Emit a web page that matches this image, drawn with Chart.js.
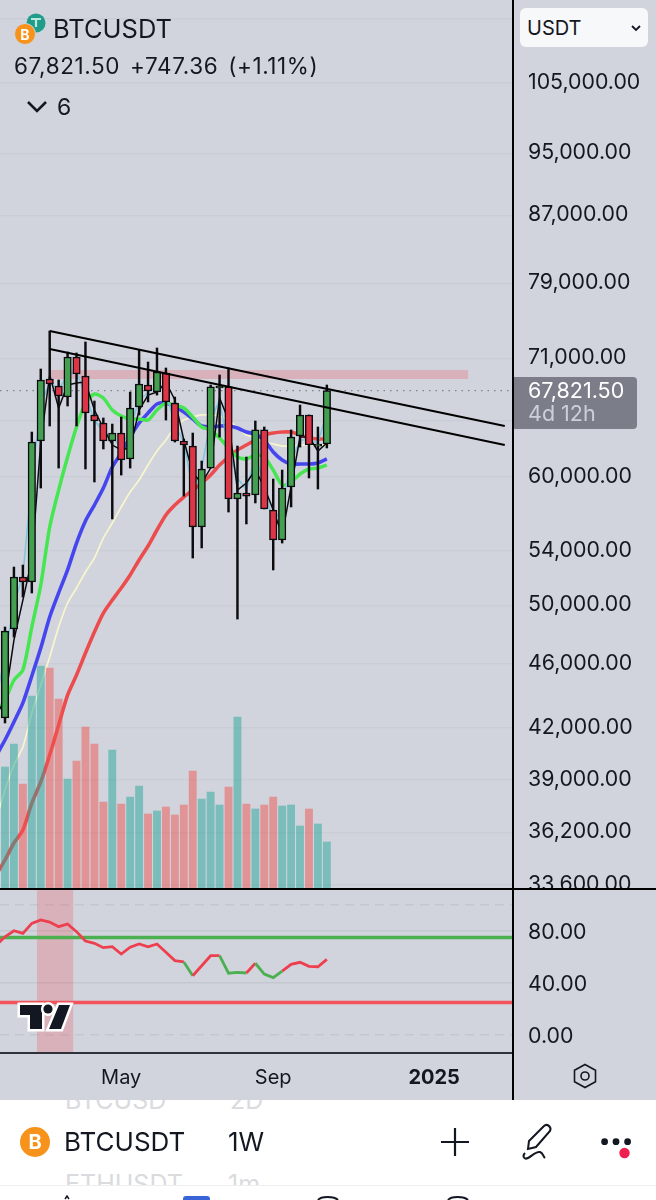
<!DOCTYPE html>
<html>
<head>
<meta charset="utf-8">
<script src="https://cdn.jsdelivr.net/npm/chart.js@4"></script>
<style>
	html, body { margin: 0; padding: 0; background: #fff; }
	#page { position: relative; width: 656px; height: 1200px; overflow: hidden; font-family: Inter, sans-serif; color: #131722; }
	#pane { position: absolute; left: 0; top: 0; width: 656px; height: 1100px; background: #d1d4dc; }
	canvas { position: absolute; left: 0; display: block; }
	.txt { position: absolute; white-space: nowrap; line-height: 1; }
	.rule { position: absolute; background: #000; }
	svg { position: absolute; overflow: visible; }
</style>
</head>
<body>
<div id="page">
	<div id="pane"></div>
	<canvas id="chart-price" width="656" height="888" style="top:0"></canvas>
	<canvas id="chart-rsi" width="656" height="212" style="top:888px"></canvas>

	<div class="rule" style="left:0;top:888px;width:656px;height:2px"></div>
	<div class="rule" style="left:0;top:1052px;width:513px;height:2px;background:#2f323b"></div>
	<div class="rule" style="left:512px;top:0;width:2px;height:1100px"></div>

	<!-- header -->
	<svg style="left:0;top:0" width="80" height="50">
		<circle cx="36" cy="23" r="9.5" fill="#1f9d8a"/>
		<path d="M31 19h10M36 19v8" stroke="#bfe5df" stroke-width="2.2" fill="none"/>
		<circle cx="25" cy="34" r="10.5" fill="#f7931a" stroke="#d1d4dc" stroke-width="1"/>
		<text x="25" y="39.5" font-size="14" font-weight="700" fill="#fff" text-anchor="middle" font-family="Inter">B</text>
	</svg>
	<div class="txt" style="left:53px;top:16px;font-size:25.5px">BTCUSDT</div>
	<div class="txt" style="left:14px;top:55px;font-size:22.5px;letter-spacing:.6px;word-spacing:3px">67,821.50 +747.36 (+1.11%)</div>
	<svg style="left:26px;top:100px" width="22" height="14"><path d="M2 2l9 9 9-9" fill="none" stroke="#131722" stroke-width="2.6"/></svg>
	<div class="txt" style="left:57px;top:96px;font-size:23px">6</div>

	<!-- currency box -->
	<div style="position:absolute;left:520px;top:8px;width:128px;height:39px;background:#f7f8fa;border-radius:6px"></div>
	<div class="txt" style="left:527px;top:18px;font-size:20px">USDT</div>
	<svg style="left:631px;top:25px" width="10" height="7"><path d="M1 1l4 4 4-4" fill="none" stroke="#131722" stroke-width="1.8"/></svg>

	<!-- last price label -->
	<div style="position:absolute;left:514px;top:377px;width:123px;height:52px;background:#7b7e89;border-radius:0 4px 4px 0"></div>
	<div class="txt" style="left:528px;top:380px;font-size:21.5px;color:#fff">67,821.50</div>
	<div class="txt" style="left:528px;top:403px;font-size:21.5px;color:#cdd0d8">4d 12h</div>

	<!-- watermark logo -->
	<svg style="left:0;top:995px" width="80" height="45">
		<g fill="#131722" stroke="#fff" stroke-width="5" paint-order="stroke" stroke-linejoin="miter">
			<path d="M20 10h22v24H30V20H20z"/>
			<circle cx="48" cy="14" r="4.6"/>
			<path d="M59 10h11l-9 24H49z"/>
		</g>
	</svg>

	<!-- settings icon on the time axis -->
	<svg style="left:572px;top:1063px" width="26" height="26">
		<path d="M13 1.5l10.5 5.8v11.4L13 24.5 2.5 18.7V7.3z" fill="none" stroke="#131722" stroke-width="1.6"/>
		<circle cx="13" cy="13" r="4" fill="none" stroke="#131722" stroke-width="1.6"/>
	</svg>

	<!-- bottom bar -->
	<div style="position:absolute;left:0;top:1100px;width:656px;height:85px;overflow:hidden">
		<div class="txt" style="left:65px;top:-12px;font-size:25px;color:#d9dbde">BTCUSD</div>
		<div class="txt" style="left:230px;top:-12px;font-size:25px;color:#d9dbde">2D</div>
		<div class="txt" style="left:65px;top:72px;font-size:25px;color:#d9dbde">ETHUSDT</div>
		<div class="txt" style="left:228px;top:72px;font-size:25px;color:#d9dbde">1m</div>
	</div>
	<div style="position:absolute;left:0;top:1185px;width:656px;height:1px;background:#eeeef0"></div>
	<svg style="left:20px;top:1127px" width="30" height="30">
		<circle cx="15" cy="15" r="15" fill="#f7931a"/>
		<text x="15" y="22" font-size="20" font-weight="700" fill="#fff" text-anchor="middle" font-family="Inter">B</text>
	</svg>
	<div class="txt" style="left:64px;top:1129px;font-size:26px">BTCUSDT</div>
	<div class="txt" style="left:228px;top:1129px;font-size:26px">1W</div>
	<svg style="left:440px;top:1127px" width="30" height="30"><path d="M15 1v28M1 15h28" stroke="#131722" stroke-width="2.2"/></svg>
	<svg style="left:518px;top:1122px" width="38" height="40">
		<path d="M26 4c3-3 8 1 6 5L18 25l-8 2 1-8z" fill="none" stroke="#131722" stroke-width="2"/>
		<path d="M7 31c-3 3-1 7 3 5 4-2 8-7 12-6 3 1 3 4 5 6" fill="none" stroke="#131722" stroke-width="2"/>
	</svg>
	<svg style="left:598px;top:1134px" width="36" height="28">
		<circle cx="6.6" cy="7.7" r="3.4" fill="#131722"/>
		<circle cx="18" cy="7.7" r="3.4" fill="#131722"/>
		<circle cx="29.6" cy="7.7" r="3.4" fill="#131722"/>
		<circle cx="26.5" cy="19" r="5.2" fill="#ef1f4f"/>
	</svg>
	<svg style="left:0;top:1190px" width="656" height="10">
		<path d="M65 9l2-3 2 3" stroke="#131722" stroke-width="1.5" fill="none"/>
		<rect x="183" y="6" width="27" height="10" rx="3" fill="#3a63d8"/>
		<path d="M318 10c3-4 16-4 20 0" stroke="#131722" stroke-width="2" fill="none"/>
		<path d="M448 10c3-4 16-4 20 0" stroke="#131722" stroke-width="2" fill="none"/>
	</svg>
</div>

<script>
// weekly candles from 29 Jan 2024, index -1 is just off the left edge
var weeks = [-1,0,1,2,3,4,5,6,7,8,9,10,11,12,13,14,15,16,17,18,19,20,21,22,23,24,25,26,27,28,29,30,31,32,33,34,35,36];
var opens = [42960,42600,48340,52050,51680,63140,68950,68270,67210,71140,69250,65520,64780,63140,63860,61550,66270,68370,67690,69540,66640,63140,62690,55880,60760,68080,68180,58150,58640,58480,64140,57240,54860,59150,63590,65520,62690,62870];
var highs = [43700,48480,52790,52940,63950,69940,73820,68860,71650,71550,72680,66830,65240,64680,65330,67690,71850,70640,72060,70040,67210,63320,63860,61370,68370,69350,70040,62690,61720,64960,64410,59820,60590,64140,66450,65520,64410,68370];
var lows = [42360,42300,47790,50590,50880,59060,64500,60760,66360,64500,60680,59570,62430,56520,60160,60760,65520,66740,67400,65050,63050,58390,53470,54240,60760,63500,57080,49030,56120,57820,57330,52570,54620,57490,62600,59910,58980,62520];
var closes = [43390,48200,52050,51680,63050,68860,68470,67310,71140,69450,65700,64960,63140,63860,61460,66170,68470,67790,69640,66740,63140,62780,55880,60680,68180,68180,58150,58640,58390,64140,57330,54860,59060,63500,65520,62780,62780,67821.5];
var volumes = [130,121,144,104,192,222,220,189,109,127,161,144,86,138,84,91,102,74,77,81,73,83,117,89,96,83,101,171,84,79,83,91,82,83,62,79,64,46];

// moving averages
var maGreen = [42960,43700,44960,45610,48480,51460,55880,58890,61720,64410,66640,67500,67120,65980,65420,65150,65150,65050,65980,66640,66450,66170,65330,64410,64140,63410,62520,61720,61550,61900,61720,60590,59310,59570,60250,60680,60760,61020];
var maBlue = [40360,41290,42360,43520,45220,47050,49170,50880,52570,54620,56360,57650,59060,60850,62070,63500,64780,65700,66550,66640,66270,65800,65150,64500,64410,64500,64500,64320,63950,63770,63230,62160,61460,61110,61110,61110,61200,61550];
var maCream = [36850,38460,39850,40880,42900,44640,46460,48480,50160,51240,52420,53470,55010,56200,57490,58730,59740,61020,62250,63230,64410,65050,65330,65520,65520,65420,65050,64320,63680,63410,63050,62870,62690,62690,62780,62780,62780,62780];
var maRed = [34080,34820,35670,36330,37750,38900,40420,42180,44010,45280,46720,48140,49450,50370,51240,52200,53320,54390,55640,56840,57650,58310,58890,59480,60160,61020,61720,62340,62780,63230,63680,63860,63950,63950,63680,63410,63320,63320];
var maSky = [43700,46590,50020,52200,59740,66450,68660,67890,69350,69640,67400,65050,63950,63500,62520,64320,66930,67600,68370,67690,64590,63050,58890,60760,65050,66930,62340,59910,58890,61900,59310,56040,57650,61280,63230,63230,62960,65800];
var maBlack = [42780,43700,47590,50370,53320,63050,69350,66170,68370,68560,68660,65980,64320,62780,62340,62520,65980,67400,67690,68660,66930,63230,60330,59480,60760,67120,65050,58890,59480,60590,59150,57240,55250,59150,63500,63500,62250,62960];

// rsi pane
var rsi = [69,75.6,80.2,78.2,85.9,88.5,86.9,83.3,85.4,79.5,72.3,70.5,67.2,67.9,62.3,67.5,70,67.9,70,63.6,57.2,56.2,45.6,53.3,61,61,47.5,48.2,47.7,55.2,46.9,44.1,49.2,54.4,55.9,52.8,52.5,58.2];
var rsiGreenFrom = [20,24,25,26,28,29,30];
var rsiBands = [75,25];
var rsiTicks = [100,80,40,0];
var rsiShade = { x: 5.6, from: -13.08, to: 113.08 };

// drawings
var trendX = [5,55.9];
var trendUpper = [73820,64500];
var trendLower = [71960,62780];
var zoneX = [5,51.8];
var zonePrice = 69400;
var lastPrice = 67821.5;

// axes
var priceTicks = [115000,105000,95000,87000,79000,71000,65000,60000,54000,50000,46000,42000,39000,36200,33600];
var hiddenPriceTicks = [115000,65000];
var timeTicks = [13,30,48];
var timeLabels = ['May','Sep','2025'];
var xMin = -0.559, xMax = 56.82;

var textColor = '#131722';
var fontName = 'Inter';

function xy(ys) {
	return weeks.map(function (w, i) { return { x: w, y: ys[i] }; });
}

function maLine(ys, color, width, order, tension) {
	return {
		type: 'line', data: xy(ys), borderColor: color, borderWidth: width,
		pointRadius: 0, tension: tension, order: order, yAxisID: 'y'
	};
}

function flatLine(xs, y, color, width, order, dash) {
	return {
		type: 'line', data: xs.map(function (x) { return { x: x, y: y }; }),
		borderColor: color, borderWidth: width, pointRadius: 0,
		borderDash: dash || [], order: order, borderCapStyle: 'butt', yAxisID: 'y'
	};
}

function trendLine(ys) {
	return {
		type: 'line', data: [{ x: trendX[0], y: ys[0] }, { x: trendX[1], y: ys[1] }],
		borderColor: '#000', borderWidth: 2, pointRadius: 0, order: 0, yAxisID: 'y'
	};
}

var isUp = closes.map(function (c, i) { return c >= opens[i]; });

var datasets = [
	// candles
	{
		label: 'body', data: weeks.map(function (w, i) { return { x: w, y: [opens[i], closes[i]] }; }),
		backgroundColor: isUp.map(function (u) { return u ? '#43a050' : '#dd3545'; }),
		borderColor: '#0c0c10', borderWidth: 1.5, borderSkipped: false,
		barThickness: 7.5, minBarLength: 2, grouped: false, order: 1, yAxisID: 'y'
	},
	{
		label: 'wick', data: weeks.map(function (w, i) { return { x: w, y: [lows[i], highs[i]] }; }),
		backgroundColor: '#0c0c10', barThickness: 1.8, grouped: false, order: 2, yAxisID: 'y'
	},
	// volume goes over the averages
	{
		label: 'volume', data: xy(volumes),
		backgroundColor: isUp.map(function (u) { return u ? 'rgba(38,166,154,.5)' : 'rgba(239,83,80,.5)'; }),
		barThickness: 7.2, grouped: false, order: 3, yAxisID: 'yVol'
	},
	maLine(maBlack, '#0c0c10', 1.5, 4, 0),
	maLine(maSky, '#7cc6de', 1.5, 5, 0),
	maLine(maGreen, '#45e650', 3.5, 6, 0.25),
	maLine(maBlue, '#4646ee', 3.6, 7, 0.25),
	maLine(maCream, '#f8f6cc', 1.7, 8, 0.25),
	maLine(maRed, '#ec4c4e', 3.6, 9, 0.25),
	flatLine(zoneX, zonePrice, 'rgba(242,54,69,.22)', 9, 10),
	flatLine([xMin, xMax], lastPrice, '#80838e', 1.3, 11, [1.5, 5]),
	trendLine(trendUpper),
	trendLine(trendLower)
];

var priceChart = new Chart(document.getElementById('chart-price').getContext('2d'), {
	type: 'bar',
	data: { datasets: datasets },
	options: {
		responsive: false,
		animation: false,
		events: [],
		layout: { padding: 0 },
		plugins: { legend: { display: false }, tooltip: { enabled: false } },
		scales: {
			x: { type: 'linear', min: xMin, max: xMax, offset: false, display: false },
			yVol: { type: 'linear', min: 0, max: 888, display: false },
			y: {
				type: 'logarithmic', position: 'right', min: 33460, max: 118140,
				border: { display: false },
				grid: { color: '#cacdd6', lineWidth: 1.5, drawTicks: false },
				ticks: {
					autoSkip: false, padding: 15, color: textColor, labelOffset: -0.5,
					font: { family: fontName, size: 21.3 },
					callback: function (v) {
						if (hiddenPriceTicks.indexOf(v) >= 0) return '';
						return v.toLocaleString('en-US', { minimumFractionDigits: 2, maximumFractionDigits: 2 });
					}
				},
				afterBuildTicks: function (scale) {
					scale.ticks = priceTicks.map(function (v) { return { value: v }; });
				},
				afterFit: function (scale) {
					scale.width = 143;
					scale.paddingTop = 0;
					scale.paddingBottom = 0;
				}
			}
		}
	}
});

var rsiChart = new Chart(document.getElementById('chart-rsi').getContext('2d'), {
	type: 'bar',
	data: {
		datasets: [
			{
				label: 'shade', data: [{ x: rsiShade.x, y: [rsiShade.from, rsiShade.to] }],
				backgroundColor: 'rgba(242,54,69,.22)', barThickness: 35.5, grouped: false, order: 5
			},
			{
				type: 'line', data: [{ x: xMin, y: rsiBands[0] }, { x: xMax, y: rsiBands[0] }],
				borderColor: '#4caf50', borderWidth: 3.4, pointRadius: 0, order: 2
			},
			{
				type: 'line', data: [{ x: xMin, y: rsiBands[1] }, { x: xMax, y: rsiBands[1] }],
				borderColor: '#f2525a', borderWidth: 3.4, pointRadius: 0, order: 2
			},
			{
				type: 'line', data: xy(rsi), borderColor: '#ee3f4f', borderWidth: 2.8, pointRadius: 0, order: 1,
				segment: {
					borderColor: function (ctx) {
						return rsiGreenFrom.indexOf(ctx.p0DataIndex - 1) >= 0 ? '#4caf50' : '#ee3f4f';
					}
				}
			}
		]
	},
	options: {
		responsive: false,
		animation: false,
		events: [],
		layout: { padding: 0 },
		plugins: { legend: { display: false }, tooltip: { enabled: false } },
		scales: {
			x: {
				type: 'linear', min: xMin, max: xMax, offset: false,
				border: { display: false },
				grid: { display: false },
				ticks: {
					autoSkip: false, maxRotation: 0, padding: 6, color: textColor,
					font: function (ctx) {
						return { family: fontName, size: 20, weight: ctx.tick && ctx.tick.value == 48 ? 700 : 400 };
					},
					callback: function (v) { return timeLabels[timeTicks.indexOf(v)]; }
				},
				afterBuildTicks: function (scale) {
					scale.ticks = timeTicks.map(function (v) { return { value: v }; });
				},
				afterFit: function (scale) { scale.height = 48; scale.paddingLeft = 0; scale.paddingRight = 0; }
			},
			y: {
				type: 'linear', position: 'right', min: rsiShade.from, max: rsiShade.to,
				border: {
					display: false,
					dash: function (ctx) { return ctx.tick && (ctx.tick.value == 100 || ctx.tick.value == 0) ? [9, 6] : []; }
				},
				grid: { color: '#c4c7d0', lineWidth: 1.5, drawTicks: false },
				ticks: {
					autoSkip: false, padding: 15, color: textColor, labelOffset: 2,
					font: { family: fontName, size: 21.3 },
					callback: function (v) { return v == 100 ? '' : v.toFixed(2); }
				},
				afterBuildTicks: function (scale) {
					scale.ticks = rsiTicks.map(function (v) { return { value: v }; });
				},
				afterFit: function (scale) { scale.width = 143; scale.paddingTop = 0; scale.paddingBottom = 0; }
			}
		}
	}
});
</script>
</body>
</html>
